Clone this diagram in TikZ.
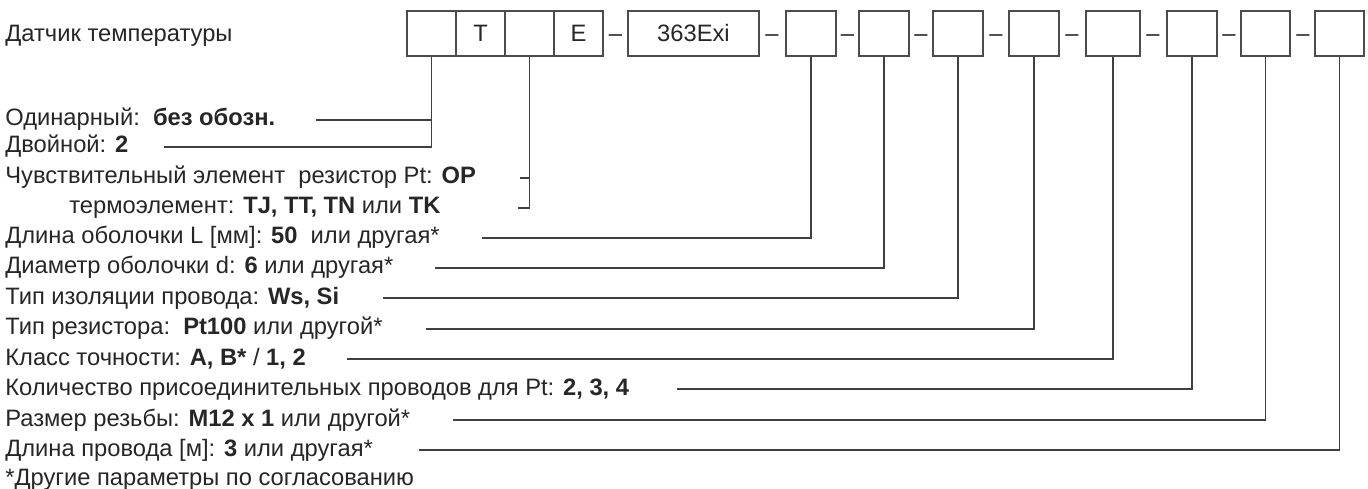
\documentclass[tikz,border=0pt]{standalone}
\usepackage{fontspec}
\setmainfont{Liberation Sans}
\begin{document}
\begin{tikzpicture}[x=0.02cm, y=-0.02cm,
  every node/.style={font=\fontsize{13.5}{16}\selectfont, text=black!85},
  txt/.style={anchor=base west, inner sep=0pt},
  cell/.style={draw=black!70, line width=0.8pt, minimum height=0.9cm, inner sep=0pt},
  dsh/.style={anchor=base, inner sep=0pt},
  lead/.style={draw=black!75, line width=0.6pt}]
\useasboundingbox (0,0) rectangle (1368,489);
% code fields
\node[cell, minimum width=0.98cm] (b1) at (431.5,33.5) {};
\node[cell, minimum width=0.98cm] (b2) at (480.5,33.5) {T};
\node[cell, minimum width=0.98cm] (b3) at (529.5,33.5) {};
\node[cell, minimum width=0.98cm] (b4) at (578.5,33.5) {E};
\node[dsh] (d1) at (615.5,41.5) {–};
\node[cell, minimum width=2.62cm] (sens) at (693.5,33.5) {363Exi};
\node[dsh] (d2) at (772,41.5) {–};
\node[cell, minimum width=1cm] (fa) at (811,33.5) {};
\node[dsh] (d3) at (847.5,41.5) {–};
\node[cell, minimum width=1cm] (fb) at (884,33.5) {};
\node[dsh] (d4) at (921,41.5) {–};
\node[cell, minimum width=1cm] (fc) at (958,33.5) {};
\node[dsh] (d5) at (996,41.5) {–};
\node[cell, minimum width=1cm] (fd) at (1034,33.5) {};
\node[dsh] (d6) at (1072,41.5) {–};
\node[cell, minimum width=1.08cm] (fe) at (1113,33.5) {};
\node[dsh] (d7) at (1153,41.5) {–};
\node[cell, minimum width=1cm] (ff) at (1192,33.5) {};
\node[dsh] (d8) at (1229,41.5) {–};
\node[cell, minimum width=0.98cm] (fg) at (1265.5,33.5) {};
\node[dsh] (d9) at (1303,41.5) {–};
\node[cell, minimum width=0.98cm] (fh) at (1339.5,33.5) {};
% legend
\node[txt] (ttl) at (5,42) {Датчик температуры};
\node[txt] (one) at (5,126) {Одинарный:\ \ \textbf{без обозн.}};
\node[txt] (two) at (5,153) {Двойной: \textbf{2}};
\node[txt] (res) at (5,184) {Чувствительный элемент\ \ резистор Pt: \textbf{OP}};
\node[txt] (tc) at (69,214) {термоэлемент: \textbf{TJ, TT, TN} или \textbf{TK}};
\node[txt] (len) at (5,244) {Длина оболочки L [мм]: \textbf{50}\ \ или другая*};
\node[txt] (dia) at (5,274) {Диаметр оболочки d: \textbf{6} или другая*};
\node[txt] (ins) at (5,304) {Тип изоляции провода: \textbf{Ws, Si}};
\node[txt] (rtp) at (5,335) {Тип резистора:\ \ \textbf{Pt100} или другой*};
\node[txt] (cls) at (5,365) {Класс точности: \textbf{A, B*} / \textbf{1, 2}};
\node[txt] (wir) at (5,395) {Количество присоединительных проводов для Pt: \textbf{2, 3, 4}};
\node[txt] (thr) at (5,426) {Размер резьбы: \textbf{M12 x 1} или другой*};
\node[txt] (wln) at (5,456) {Длина провода [м]: \textbf{3} или другая*};
\node[txt] (note) at (5,485) {*Другие параметры по согласованию};
% line ends
\coordinate (e1) at (316,120);
\coordinate (e2) at (164,147);
\coordinate (t1) at (520,178);
\coordinate (t2) at (518,208);
\coordinate (e3) at (482,238);
\coordinate (e4) at (435,268);
\coordinate (e5) at (383,298);
\coordinate (e6) at (426,329);
\coordinate (e7) at (347,359);
\coordinate (e8) at (677,389);
\coordinate (e9) at (453,420);
\coordinate (e10) at (419,450);
\draw[lead] (b1.south) |- (e2);
\draw[lead] (e1) -- (e1 -| b1.south);
\draw[lead] (b3.south) |- (t2);
\draw[lead] (t1) -- (t1 -| b3.south);
\draw[lead] (fa.south) |- (e3);
\draw[lead] (fb.south) |- (e4);
\draw[lead] (fc.south) |- (e5);
\draw[lead] (fd.south) |- (e6);
\draw[lead] (fe.south) |- (e7);
\draw[lead] (ff.south) |- (e8);
\draw[lead] (fg.south) |- (e9);
\draw[lead] (fh.south) |- (e10);
\end{tikzpicture}
\end{document}
